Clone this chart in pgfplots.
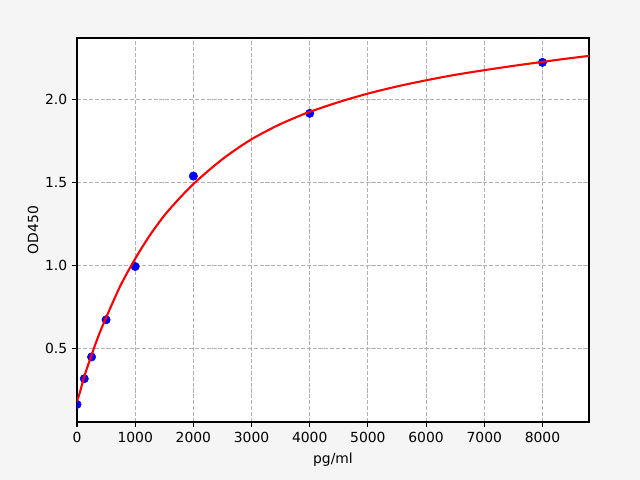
\documentclass[border=0pt]{standalone}
\usepackage{pgfplots}
\pgfplotsset{compat=1.18}
\usepackage{fontspec}
\setmainfont{DejaVu Sans}
\definecolor{figbg}{RGB}{245,245,245}
\definecolor{gridgray}{RGB}{176,176,176}
\begin{document}
\begin{tikzpicture}
  \fill[figbg] (0,0) rectangle (460.8pt,345.6pt);
  \begin{axis}[
    at={(55.44pt,41.76pt)}, anchor=south west,
    scale only axis,
    width=368.64pt, height=276.48pt,
    axis background/.style={fill=white},
    xmin=0, xmax=8800,
    ymin=0.056, ymax=2.37,
    xtick={0,1000,...,8000},
    ytick={0.5,1.0,1.5,2.0},
    grid=major,
    major grid style={gridgray, line width=0.8pt, dash pattern=on 2.96pt off 1.28pt},
    axis line style={line width=0.8pt},
    tick style={black, line width=0.8pt},
    tick align=outside,
    major tick length=3.5pt,
    xtick pos=bottom, ytick pos=left,
    font=\fontsize{10}{12}\selectfont,
    tick label style={font=\fontsize{10}{12}\selectfont},
    /pgf/number format/assume math mode=true,
    xticklabel style={/pgf/number format/1000 sep={}},
    yticklabel style={/pgf/number format/.cd, fixed, fixed zerofill, precision=1},
    xlabel={pg/ml},
    ylabel={OD450},
    xlabel style={yshift=-1pt},
    ylabel style={yshift=-2pt},
    clip marker paths=true,
  ]
    % standards
    \addplot[only marks, mark=*, mark size=3pt, blue, mark options={fill=blue, draw=blue}] coordinates {
      (0,0.162) (125,0.317) (250,0.448) (500,0.672) (1000,0.993)
      (2000,1.538) (4000,1.916) (8000,2.223)
    };
    % fitted curve
    \addplot[red, line width=1.5pt, smooth, no markers] coordinates {
      (0,0.18) (50,0.235) (125,0.33) (250,0.46) (375,0.58) (500,0.685)
      (750,0.88) (1000,1.04) (1250,1.18) (1500,1.30) (1750,1.40) (2000,1.49)
      (2250,1.568) (2500,1.64) (2750,1.703) (3000,1.76) (3250,1.808)
      (3500,1.852) (3750,1.89) (4000,1.925) (4500,1.984) (5000,2.035)
      (5500,2.078) (6000,2.115) (6500,2.148) (7000,2.176) (7500,2.202)
      (8000,2.226) (8400,2.245) (8800,2.262)
    };
  \end{axis}
\end{tikzpicture}
\end{document}
